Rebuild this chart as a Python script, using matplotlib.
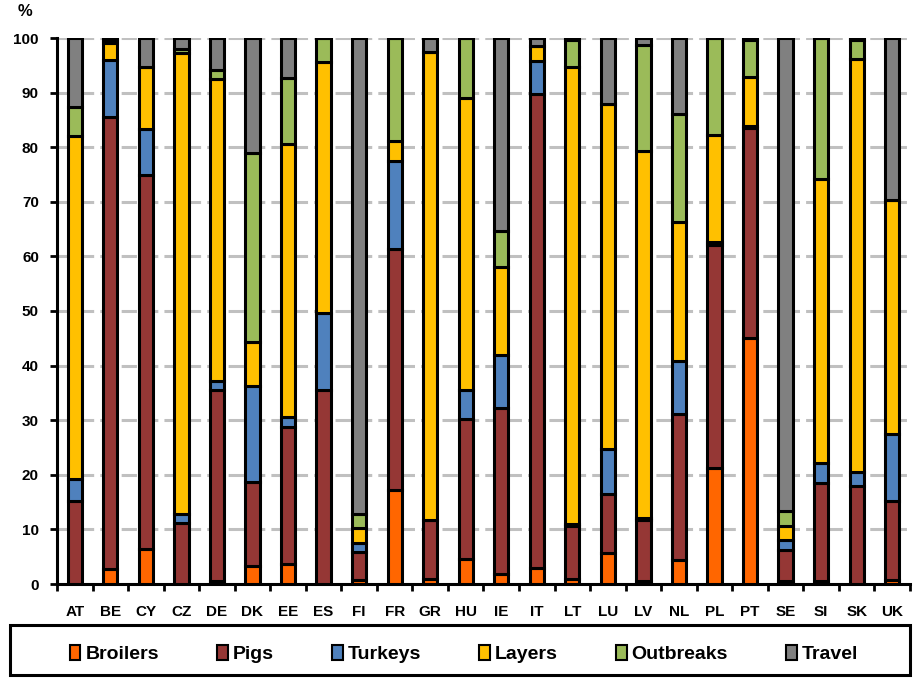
import numpy as np
import matplotlib
matplotlib.use("Agg")
import matplotlib.pyplot as plt
from matplotlib.patches import Rectangle
from matplotlib.ticker import FixedLocator

plt.rcParams['font.family'] = ['Liberation Sans', 'DejaVu Sans']
plt.rcParams['font.weight'] = 'bold'

countries = ["AT", "BE", "CY", "CZ", "DE", "DK", "EE", "ES", "FI", "FR", "GR", "HU",
             "IE", "IT", "LT", "LU", "LV", "NL", "PL", "PT", "SE", "SI", "SK", "UK"]

# share of cases attributed to each source (%)
broilers = [0, 2.7, 6.5, 0, 0.5, 3.3, 3.7, 0, 0.7, 17.3, 1.0, 4.6,
            1.8, 2.9, 1.0, 5.6, 0.5, 4.4, 21.2, 45.1, 0.5, 0.5, 0, 0.8]
pigs = [15.2, 82.8, 68.4, 11.2, 35.1, 15.4, 25.0, 35.6, 5.2, 44.1, 10.7, 25.6,
        30.4, 86.9, 9.7, 10.8, 11.3, 26.8, 40.8, 38.4, 5.7, 18.0, 17.9, 14.4]
turkeys = [4.1, 10.4, 8.5, 1.6, 1.5, 17.5, 1.8, 14.0, 1.6, 16.1, 0, 5.4,
           9.8, 6.0, 0.3, 8.4, 0.2, 9.7, 0.7, 0.4, 1.9, 3.7, 2.6, 12.2]
layers = [62.7, 3.1, 11.3, 84.5, 55.3, 8.2, 50.1, 46.0, 2.7, 3.6, 85.7, 53.4,
          16.1, 2.8, 83.7, 63.1, 67.3, 25.4, 19.5, 8.9, 2.6, 52.0, 75.6, 43.0]
outbreaks = [5.4, 0.7, 0, 0.7, 1.8, 34.5, 12.0, 4.4, 2.6, 18.9, 0, 11.0,
             6.5, 0, 4.9, 0, 19.5, 19.7, 17.8, 6.8, 2.6, 25.8, 3.5, 0]
travel = [12.6, 0.3, 5.3, 2.0, 5.8, 21.1, 7.4, 0, 87.2, 0, 2.6, 0,
          35.4, 1.4, 0.4, 12.1, 1.2, 14.0, 0, 0.4, 86.7, 0, 0.4, 29.6]

series = [("Broilers", broilers, "#FF6600"),
          ("Pigs", pigs, "#953735"),
          ("Turkeys", turkeys, "#4F81BD"),
          ("Layers", layers, "#FFC000"),
          ("Outbreaks", outbreaks, "#9BBB59"),
          ("Travel", travel, "#808080")]

W, H = 917, 678
fig = plt.figure(figsize=(W / 100, H / 100), dpi=100)
ax = fig.add_axes([57 / W, 1 - 584 / H, 853 / W, 546 / H])

x = np.arange(len(countries))
bottom = np.zeros(len(countries))
for name, vals, col in series:
    vals = np.array(vals, dtype=float)
    ax.bar(x, vals, 0.4, bottom=bottom, color=col, edgecolor="black",
           linewidth=2.2, label=name, zorder=3)
    bottom += vals

ax.set_xlim(-0.5, len(countries) - 0.5)
ax.set_ylim(0, 100)
ax.set_yticks(range(0, 101, 10))
ax.set_xticks(x)
ax.set_xticklabels(countries)
ax.xaxis.set_minor_locator(FixedLocator(np.arange(-0.5, len(countries), 1.0)))
ax.tick_params(axis="x", which="major", length=0, pad=15, labelsize=11)
ax.tick_params(axis="x", which="minor", length=5, width=2, direction="out")
ax.tick_params(axis="y", length=5, width=2, labelsize=11, pad=8)

ax.grid(axis="y", color="#C0C0C0", linestyle=(0, (5, 2)), linewidth=2.2, zorder=0)
for s in ["top", "right"]:
    ax.spines[s].set_visible(False)
for s in ["left", "bottom"]:
    ax.spines[s].set_linewidth(2.2)

fig.text(18 / W, 1 - 4 / H, "%", fontsize=12, fontweight="bold", va="top")

# legend box drawn separately, legend entries centred inside it
fig.patches.append(Rectangle((10 / W, 1 - 675 / H), 900 / W, 50 / H,
                             transform=fig.transFigure, fill=False,
                             edgecolor="black", linewidth=2.2))
leg = fig.legend(loc="center", ncol=6, bbox_to_anchor=(464 / W, 1 - 654 / H),
                 fontsize=14, frameon=False, handlelength=0.55, handleheight=0.8,
                 handletextpad=0.25, columnspacing=3.0, borderaxespad=0)
for h in leg.legend_handles:
    h.set_linewidth(1.5)

fig.savefig("out.png", dpi=100)
